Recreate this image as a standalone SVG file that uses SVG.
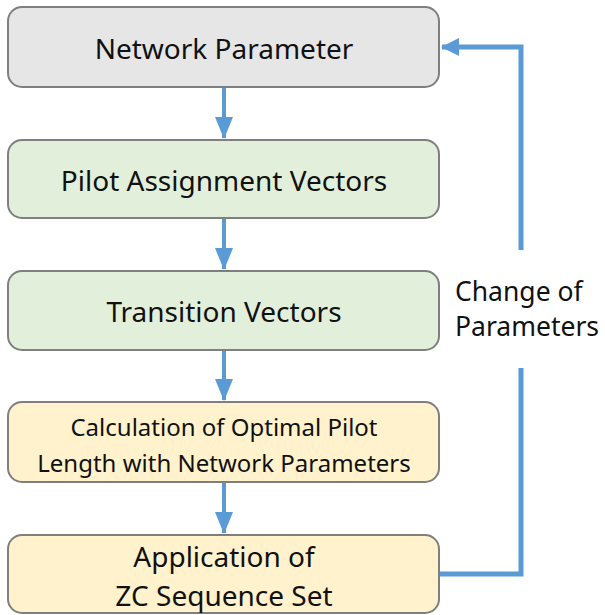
<svg xmlns="http://www.w3.org/2000/svg" width="605" height="615" viewBox="0 0 605 615">
<style>
.box{stroke:#7f7f7f;stroke-width:2}
.gray{fill:#e6e6e6}
.green{fill:#e2efda}
.yellow{fill:#fff2cc}
text{font-family:"Noto Sans","Open Sans",sans-serif;fill:#111;text-anchor:middle}
.big{font-size:28px}
.mid{font-size:24px}
.side{text-anchor:start;font-size:26.5px}
.conn{stroke:#5b9bd5;stroke-width:5;fill:none}
.down{stroke-width:4}
</style>
<defs>
<marker id="ah" markerWidth="22" markerHeight="18" refX="21" refY="9" orient="auto" markerUnits="userSpaceOnUse">
<path d="M0,0 L22,9 L0,18 Z" fill="#5b9bd5"/>
</marker>
<marker id="ah2" markerWidth="18" markerHeight="18" refX="17" refY="9" orient="auto" markerUnits="userSpaceOnUse">
<path d="M0,0 L18,9 L0,18 Z" fill="#5b9bd5"/>
</marker>
</defs>
<g id="n1"><rect class="box gray" x="8" y="7" width="431" height="80" rx="14"/><text class="big" x="224" y="59">Network Parameter</text></g>
<g id="n2"><rect class="box green" x="8" y="140" width="431" height="78" rx="14"/><text class="big" x="224" y="191">Pilot Assignment Vectors</text></g>
<g id="n3"><rect class="box green" x="8" y="271" width="431" height="79" rx="14"/><text class="big" x="224" y="322">Transition Vectors</text></g>
<g id="n4"><rect class="box yellow" x="8" y="402" width="431" height="80" rx="14"/><text class="mid" x="224" y="436">Calculation of Optimal Pilot</text><text class="mid" x="224" y="472">Length with Network Parameters</text></g>
<g id="n5"><rect class="box yellow" x="8" y="535" width="431" height="78" rx="14"/><text class="big" x="224" y="567">Application of</text><text class="big" x="224" y="606">ZC Sequence Set</text></g>
<g id="label"><text class="side" x="455" y="301">Change of</text><text class="side" x="455" y="336">Parameters</text></g>
<g id="connectors">
<line class="conn down" x1="224" y1="88" x2="224" y2="138" marker-end="url(#ah)"/>
<line class="conn down" x1="224" y1="219" x2="224" y2="269" marker-end="url(#ah)"/>
<line class="conn down" x1="224" y1="351" x2="224" y2="400" marker-end="url(#ah)"/>
<line class="conn down" x1="224" y1="483" x2="224" y2="533" marker-end="url(#ah)"/>
<polyline class="conn" points="440,574 521,574 521,368"/>
<polyline class="conn" points="521,250 521,47 442,47" marker-end="url(#ah2)"/>
</g>
</svg>
